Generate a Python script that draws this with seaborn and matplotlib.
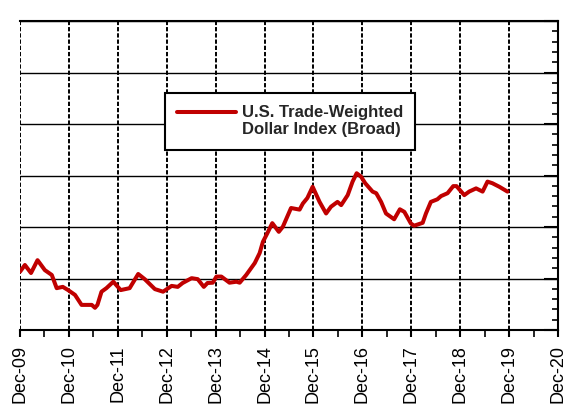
import matplotlib
matplotlib.use("Agg")
import matplotlib.pyplot as plt
import seaborn as sns
import pandas as pd
import numpy as np
from matplotlib.ticker import MultipleLocator, FixedLocator
from matplotlib.lines import Line2D

# months since Dec-2009
months = [0, 1.2, 2.7, 4.3, 6.1, 7.8, 9.0, 10.5, 11.8, 13.5, 15.1, 17.6, 18.4, 19.0,
          20.0, 21.2, 22.9, 24.7, 26.9, 29.0, 30.6, 33.1, 35.1, 37.2, 38.7, 39.9,
          42.1, 43.6, 45.1, 46.0, 47.3, 48.2, 49.4, 51.4, 53.1, 53.9, 55.5, 57.6,
          58.8, 59.6, 60.7, 61.9, 63.5, 64.5, 66.5, 68.6, 69.4, 70.5, 71.8, 73.5,
          75.1, 76.3, 77.9, 78.8, 80.4, 81.6, 82.6, 83.7, 84.7, 86.5, 87.4, 88.6,
          89.8, 91.8, 93.2, 94.3, 95.9, 96.7, 98.8, 99.6, 100.8, 102.4, 103.3,
          104.9, 106.3, 107.1, 109.0, 110.2, 111.9, 113.5, 114.7, 115.9, 117.6, 119.6]
index_values = [98.1, 100.2, 97.7, 101.7, 98.6, 97.1, 93.0, 93.4, 92.4, 90.9, 87.8, 87.8,
                86.9, 87.8, 91.9, 93.0, 95.0, 92.4, 93.0, 97.4, 95.8, 92.7, 91.9, 93.7,
                93.4, 94.6, 96.1, 95.8, 93.4, 94.6, 94.7, 96.6, 96.6, 94.7, 95.0, 94.7,
                97.1, 100.8, 103.9, 107.4, 110.1, 113.2, 110.5, 112.1, 117.9, 117.4,
                119.3, 121.0, 124.5, 119.8, 116.2, 118.3, 119.8, 118.8, 121.9, 126.1,
                128.7, 127.6, 125.6, 123.0, 122.5, 119.8, 116.2, 114.4, 117.5, 116.7,
                113.1, 112.4, 113.3, 116.2, 119.8, 120.6, 121.6, 122.5, 124.7, 124.7,
                121.9, 123.0, 124.0, 123.0, 126.1, 125.6, 124.5, 123.0]
tick_positions = list(range(0, 133, 12))
tick_labels = ["Dec-09", "Dec-10", "Dec-11", "Dec-12", "Dec-13", "Dec-14",
               "Dec-15", "Dec-16", "Dec-17", "Dec-18", "Dec-19", "Dec-20"]
series_name_lines = ["U.S. Trade-Weighted", "Dollar Index (Broad)"]

sns.set_style("white")
plt.rcParams['font.family'] = ['Liberation Sans', 'DejaVu Sans']

fig = plt.figure(figsize=(5.73, 4.04), dpi=100)
ax = fig.add_axes([20/573, 74/404, 538/573, 309/404])

df = pd.DataFrame({"month": months, "value": index_values})
sns.lineplot(data=df, x="month", y="value", ax=ax, color="#C00000", lw=2.9,
             sort=False, legend=False, zorder=5)
series_line = ax.get_lines()[0]

ax.set_xlim(0, 132)
ax.set_ylim(80, 176)
ax.set_xlabel("")
ax.set_ylabel("")

ax.set_xticks(tick_positions)
ax.set_xticklabels(tick_labels, rotation=90, fontsize=13, color="black")
ax.xaxis.set_minor_locator(FixedLocator(list(range(6, 133, 12))))
ax.set_yticks(np.arange(80, 177, 16))
ax.yaxis.set_minor_locator(MultipleLocator(3.2))

ax.tick_params(axis='y', which='both', left=False, right=True, labelleft=False,
               labelright=False, direction='in', colors='black')
ax.tick_params(axis='y', which='major', length=10, width=1.5)
ax.tick_params(axis='y', which='minor', length=4, width=1.2)
ax.tick_params(axis='x', which='major', length=5, width=1.5, direction='out',
               pad=6, bottom=True, colors='black')
ax.tick_params(axis='x', which='minor', length=5, width=1.2, direction='out',
               bottom=True, colors='black')

ax.set_axisbelow(True)
ax.yaxis.grid(True, which='major', color='black', lw=1.0, ls='-')
ax.xaxis.grid(True, which='major', color='black', lw=1.4, ls=(0, (2.2, 1)))

ax.spines['left'].set_visible(False)
for s in ['top', 'right', 'bottom']:
    ax.spines[s].set_color('black')
    ax.spines[s].set_linewidth(1.5)

blank = Line2D([], [], color='none', lw=0)
leg = ax.legend([series_line, blank], series_name_lines,
                loc='upper left', bbox_to_anchor=(0.2695, 0.767), borderaxespad=0,
                frameon=True, fancybox=False, edgecolor='black', framealpha=1,
                prop={'weight': 'bold', 'size': 12}, handlelength=3.5,
                handletextpad=0.35, borderpad=0.75, labelspacing=0.12)
leg.get_frame().set_linewidth(1.5)

fig.savefig("out.png", dpi=100)
